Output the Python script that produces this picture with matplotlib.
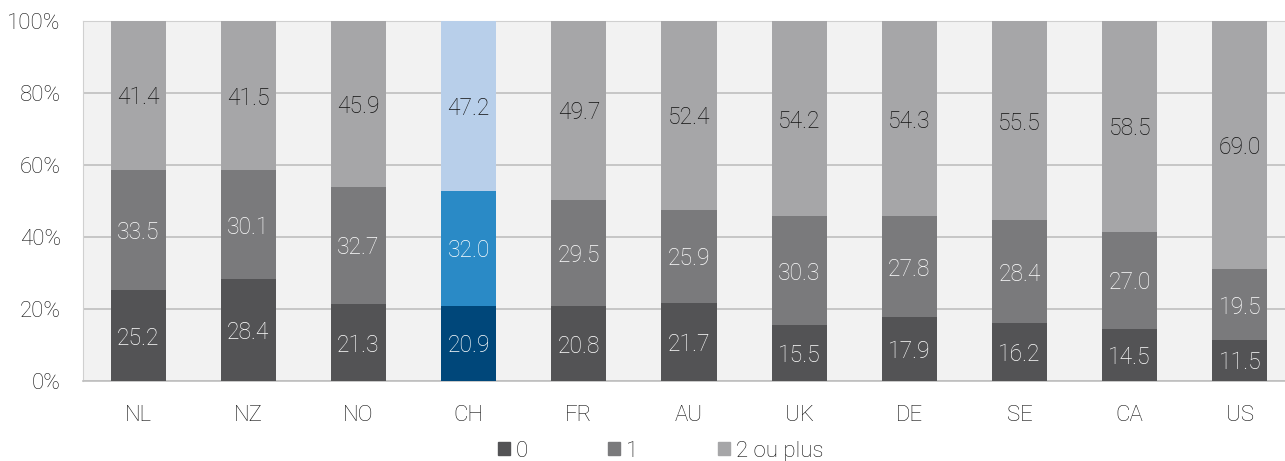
import numpy as np
import matplotlib.pyplot as plt

plt.rcParams['font.family'] = ['Roboto', 'DejaVu Sans']

countries = ['NL', 'NZ', 'NO', 'CH', 'FR', 'AU', 'UK', 'DE', 'SE', 'CA', 'US']
zero = [25.2, 28.4, 21.3, 20.9, 20.8, 21.7, 15.5, 17.9, 16.2, 14.5, 11.5]
one = [33.5, 30.1, 32.7, 32.0, 29.5, 25.9, 30.3, 27.8, 28.4, 27.0, 19.5]
two_plus = [41.4, 41.5, 45.9, 47.2, 49.7, 52.4, 54.2, 54.3, 55.5, 58.5, 69.0]
labels = ['0', '1', '2 ou plus']

grey = ['#535355', '#7a7a7c', '#a6a6a8']
blue = ['#00477a', '#2a8ac6', '#b8cfea']
highlight = 'CH'

fig = plt.figure(figsize=(12.85, 4.61), dpi=100)
# plot area runs past the right edge of the picture, like the original
ax = fig.add_axes([83 / 1285, 80 / 461, 1212 / 1285, 360 / 461])
ax.set_facecolor('#f2f2f2')

x = np.arange(len(countries))
series = [zero, one, two_plus]
bottom = np.zeros(len(countries))
for k, vals in enumerate(series):
    cols = [blue[k] if c == highlight else grey[k] for c in countries]
    ax.bar(x, vals, width=0.5, bottom=bottom, color=cols, label=labels[k], zorder=3)
    for i, v in enumerate(vals):
        ax.text(x[i], bottom[i] + v / 2, f'{v:.1f}', ha='center', va='center_baseline',
                fontsize=16.5, fontweight='light',
                color='#111111' if k == 2 else 'white', zorder=4)
    bottom = bottom + np.array(vals)

ax.set_xlim(-0.5, len(countries) - 0.5)
ax.set_ylim(0, 100)
ax.set_yticks(np.arange(0, 101, 20))
ax.set_yticklabels([f'{v}%' for v in range(0, 101, 20)])
ax.set_xticks(x)
ax.set_xticklabels(countries)
ax.tick_params(length=0, labelsize=16, colors='#111111')
ax.tick_params(axis='x', pad=17)
ax.tick_params(axis='y', pad=16)
for t in ax.get_xticklabels() + ax.get_yticklabels():
    t.set_fontweight('light')
ax.grid(axis='y', color='#bfbfbf', linewidth=1.2, zorder=1)
for s in ax.spines.values():
    s.set_color('#d0d0d0')
ax.spines['bottom'].set_color('#bfbfbf')
ax.spines['bottom'].set_linewidth(1.2)

leg = fig.legend(loc='center', bbox_to_anchor=(0.514, 10 / 461), ncol=3, frameon=False,
                 fontsize=16, handlelength=0.55, handleheight=0.55, columnspacing=3.6,
                 handletextpad=0.25, borderpad=0)
for t in leg.get_texts():
    t.set_fontweight('light')
    t.set_color('#111111')
for h, c in zip(leg.legend_handles, grey):
    h.set_color(c)

fig.savefig('out.png', dpi=100)
